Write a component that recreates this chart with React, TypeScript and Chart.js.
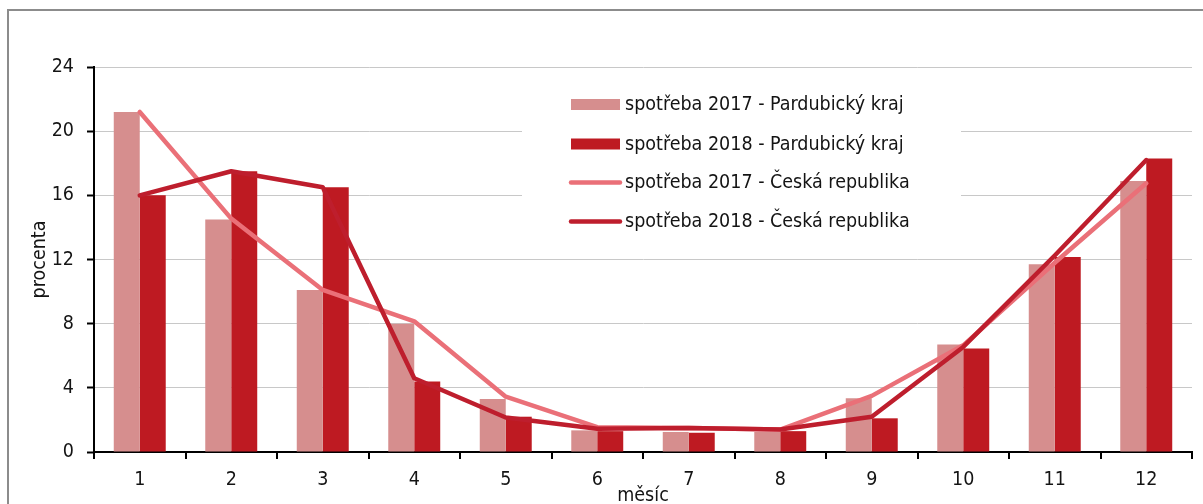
import React, { useEffect, useRef } from 'react';
import { Chart, registerables } from 'chart.js';

Chart.register(...registerables);

const months = ['1', '2', '3', '4', '5', '6', '7', '8', '9', '10', '11', '12'];
const pk2017 = [21.2, 14.5, 10.1, 8.0, 3.3, 1.35, 1.25, 1.25, 3.35, 6.7, 11.7, 16.9];
const pk2018 = [16.0, 17.5, 16.5, 4.4, 2.2, 1.3, 1.2, 1.3, 2.1, 6.45, 12.15, 18.3];
const cr2017 = [21.2, 14.55, 10.1, 8.15, 3.45, 1.55, 1.5, 1.4, 3.5, 6.65, 11.8, 16.75];
const cr2018 = [16.0, 17.5, 16.5, 4.6, 2.15, 1.45, 1.5, 1.4, 2.2, 6.55, 12.25, 18.2];
const yTicks = [0, 4, 8, 12, 16, 20, 24];
const seriesLabels = [
  'spotřeba 2017 - Pardubický kraj',
  'spotřeba 2018 - Pardubický kraj',
  'spotřeba 2017 - Česká republika',
  'spotřeba 2018 - Česká republika',
];
const xTitle = 'měsíc';
const yTitle = 'procenta';

const FONT = '"DejaVu Sans Condensed", "DejaVu Sans", sans-serif';
const FSIZE = 19.5;
const TXT = '#141414';
const COL_PK17 = '#D68E8E';
const COL_PK18 = '#BE1A22';
const COL_CR17 = '#EA7078';
const COL_CR18 = '#BE1E2D';

const framePlugin = {
  id: 'frame',
  beforeDraw(chart: any) {
    const ctx = chart.ctx;
    ctx.save();
    ctx.fillStyle = '#ffffff';
    ctx.fillRect(0, 0, chart.width, chart.height);
    ctx.fillStyle = '#8c8c8c';
    ctx.fillRect(7, 9, chart.width - 7, 2);
    ctx.fillRect(7, 9, 2, chart.height - 9);
    ctx.restore();
  },
};

const legendPlugin = {
  id: 'boxLegend',
  beforeDatasetsDraw(chart: any) {
    const ctx = chart.ctx;
    ctx.save();
    ctx.fillStyle = '#ffffff';
    ctx.fillRect(522, 74, 439, 172);
    const rows = [105, 144.5, 183, 222];
    chart.data.datasets.forEach((ds: any, i: number) => {
      const y = rows[i];
      if (ds.type === 'line') {
        ctx.strokeStyle = ds.borderColor;
        ctx.lineWidth = 4.5;
        ctx.lineCap = 'round';
        ctx.beginPath();
        ctx.moveTo(571, y - 0.5);
        ctx.lineTo(620, y - 0.5);
        ctx.stroke();
      } else {
        ctx.fillStyle = ds.backgroundColor;
        ctx.fillRect(571, y - 6, 49, 11);
      }
      ctx.fillStyle = TXT;
      ctx.font = `${FSIZE}px ${FONT}`;
      ctx.textBaseline = 'middle';
      ctx.textAlign = 'left';
      ctx.fillText(ds.label, 625, y);
    });
    ctx.restore();
  },
};

export default function App() {
  const ref = useRef<HTMLCanvasElement | null>(null);

  useEffect(() => {
    if (!ref.current) return;
    const chart = new Chart(ref.current, {
      type: 'bar',
      data: {
        labels: months,
        datasets: [
          {
            type: 'bar',
            label: seriesLabels[0],
            data: pk2017,
            backgroundColor: COL_PK17,
            borderWidth: 0,
            order: 2,
          },
          {
            type: 'bar',
            label: seriesLabels[1],
            data: pk2018,
            backgroundColor: COL_PK18,
            borderWidth: 0,
            order: 3,
          },
          {
            type: 'line',
            label: seriesLabels[2],
            data: cr2017,
            borderColor: COL_CR17,
            backgroundColor: COL_CR17,
            borderWidth: 4.5,
            pointRadius: 0,
            borderCapStyle: 'round',
            borderJoinStyle: 'round',
            tension: 0,
            order: 1,
          },
          {
            type: 'line',
            label: seriesLabels[3],
            data: cr2018,
            borderColor: COL_CR18,
            backgroundColor: COL_CR18,
            borderWidth: 4.5,
            pointRadius: 0,
            borderCapStyle: 'round',
            borderJoinStyle: 'round',
            tension: 0,
            order: 0,
          },
        ],
      } as any,
      options: {
        responsive: false,
        animation: false,
        devicePixelRatio: 1,
        layout: { padding: { top: 67, right: 11, left: 0, bottom: 0 } },
        datasets: {
          bar: { barPercentage: 1, categoryPercentage: 0.568 },
        },
        plugins: {
          legend: { display: false },
          tooltip: { enabled: false },
        },
        scales: {
          x: {
            offset: true,
            grid: {
              offset: true,
              drawOnChartArea: false,
              drawTicks: true,
              tickLength: 7,
              tickColor: '#000',
              tickWidth: 2,
              lineWidth: 2,
              color: '#000',
            },
            border: { color: '#000', width: 2 },
            ticks: {
              color: TXT,
              font: { family: FONT, size: FSIZE },
              padding: 9,
              maxRotation: 0,
              autoSkip: false,
            },
            title: {
              display: true,
              text: xTitle,
              color: TXT,
              font: { family: FONT, size: FSIZE },
              padding: { top: 0, bottom: -4 },
            },
            afterFit(s: any) {
              s.height = 52;
            },
          },
          y: {
            min: 0,
            max: 24,
            afterBuildTicks(s: any) {
              s.ticks = yTicks.map((v) => ({ value: v }));
            },
            grid: {
              color: '#c8c8c8',
              lineWidth: 1,
              drawTicks: true,
              tickLength: 7,
              tickColor: '#000',
              tickWidth: 2,
            },
            border: { color: '#000', width: 2 },
            ticks: {
              color: TXT,
              font: { family: FONT, size: FSIZE },
              padding: 13,
            },
            title: {
              display: true,
              text: yTitle,
              color: TXT,
              font: { family: FONT, size: FSIZE },
              padding: { top: 28, bottom: 0 },
            },
            afterFit(s: any) {
              s.width = 94;
            },
          },
        },
      } as any,
      plugins: [framePlugin, legendPlugin],
    });
    return () => chart.destroy();
  }, []);

  return (
    <div
      style={{
        position: 'absolute',
        left: 0,
        top: 0,
        width: 1203,
        height: 504,
        overflow: 'hidden',
        background: '#fff',
      }}
    >
      <canvas ref={ref} width={1203} height={504} style={{ display: 'block', width: 1203, height: 504 }} />
    </div>
  );
}
